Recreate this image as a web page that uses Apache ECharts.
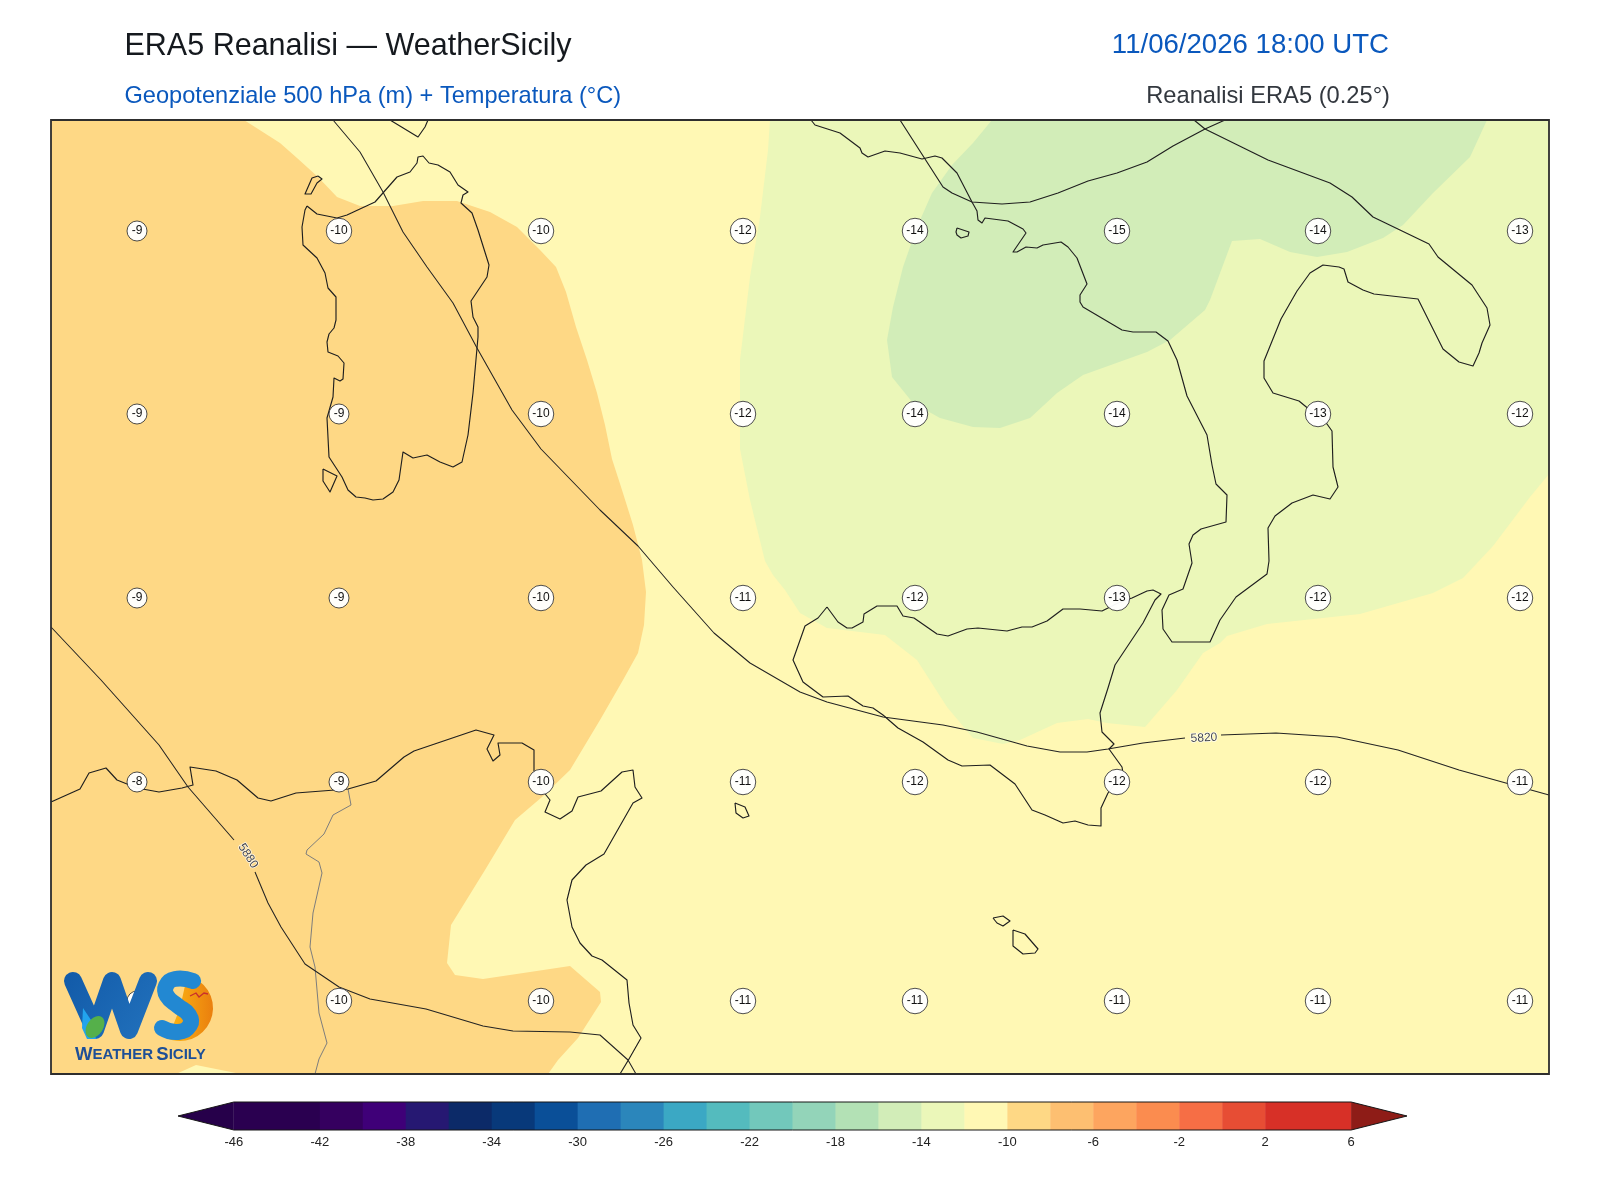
<!DOCTYPE html>
<html>
<head>
<meta charset="utf-8">
<style>html,body{margin:0;padding:0;background:#fff}#c{width:1600px;height:1200px}</style>
<script src="https://cdn.jsdelivr.net/npm/echarts@6/dist/echarts.min.js"></script>
</head>
<body>
<div id="c"></div>
<script>
// Map units: the plot window spans x 51..1549 and y 120..1074 (y grows southward).
const mapX = [51, 1549];
const mapY = [120, 1074];

// Temperature bands (filled contours)
const bandBase = [[51,120],[1549,120],[1549,1074],[51,1074]];
const bandOrange = [[51,120],[244,120],[280,143],[297,158],[318,177],[337,197],[360,206],[393,206],[423,201],[457,201],[490,212],[517,227],[540,250],[556,267],[566,292],[576,327],[587,360],[597,393],[605,425],[612,459],[622,490],[633,525],[642,560],[646,592],[644,625],[638,653],[623,680],[600,720],[570,770],[542,797],[515,820],[485,870],[451,925],[447,963],[455,975],[483,979],[530,972],[570,966],[600,992],[601,1002],[578,1038],[558,1060],[548,1074],[51,1074]];
const bandWedge = [[176,1074],[196,1065],[241,1074]];
const bandPale = [[770,120],[768,150],[760,217],[750,277],[740,360],[740,449],[750,500],[765,561],[773,575],[785,590],[800,613],[827,628],[885,635],[917,660],[947,707],[973,738],[1003,744],[1020,740],[1057,723],[1088,719],[1107,723],[1145,727],[1177,690],[1203,653],[1220,643],[1227,636],[1267,624],[1360,614],[1433,593],[1463,578],[1493,546],[1530,497],[1549,474],[1549,120]];
const bandGreen = [[992,120],[973,143],[952,165],[932,193],[917,227],[903,267],[893,307],[887,340],[892,377],[913,403],[940,418],[973,427],[1000,428],[1030,418],[1057,393],[1083,375],[1147,352],[1170,340],[1205,310],[1210,300],[1232,241],[1260,239],[1290,252],[1317,257],[1347,252],[1383,238],[1403,225],[1433,193],[1470,157],[1487,120]];
const bandColors = ['#fff8b4','#fed885','#fff8b4','#ebf7b9','#d2edb8'];

// Coastlines
const sardinia = [[307,206],[317,214],[337,218],[347,215],[375,202],[397,177],[410,172],[417,163],[418,157],[423,156],[429,163],[438,165],[450,172],[458,185],[468,192],[463,195],[461,203],[472,213],[478,230],[489,265],[487,277],[471,301],[473,317],[478,327],[478,337],[473,393],[468,435],[462,462],[453,467],[440,462],[427,455],[413,458],[403,452],[399,480],[393,492],[383,499],[373,500],[365,498],[356,497],[348,490],[342,477],[329,457],[327,418],[333,397],[334,378],[340,381],[343,379],[344,363],[338,356],[328,352],[327,342],[329,334],[334,328],[336,320],[336,297],[328,288],[325,273],[317,258],[303,245],[302,227],[305,210],[307,206]];
const asinara = [[318,176],[322,179],[317,183],[311,194],[305,194],[312,178],[318,176]];
const antioco = [[323,469],[337,476],[330,492],[323,481],[323,469]];
const corsica = [[390,120],[418,137],[425,127],[428,120]];
const italyWest = [[811,120],[815,125],[840,133],[860,148],[862,153],[868,157],[885,151],[900,153],[922,159],[935,156],[942,158],[957,173],[972,202],[977,211],[978,220],[982,223],[985,218],[1008,221],[1023,229],[1026,233],[1013,252],[1017,252],[1026,247],[1037,248],[1043,245],[1061,242],[1068,247],[1077,258],[1087,284],[1080,295],[1080,302],[1083,307],[1122,330],[1133,332],[1156,332],[1168,341],[1177,360],[1187,396],[1207,435],[1212,465],[1216,484],[1227,495],[1226,522],[1201,529],[1193,535],[1189,544],[1192,563],[1183,589],[1169,595],[1162,610],[1163,629],[1172,642],[1210,642],[1220,620],[1236,597],[1267,574],[1269,561],[1268,528],[1275,516],[1292,503],[1313,495],[1330,499],[1338,487],[1333,467],[1332,431],[1327,424],[1299,401],[1273,393],[1264,378],[1264,361],[1281,319],[1297,291],[1310,273],[1323,265],[1339,267],[1344,269],[1348,282],[1363,290],[1374,294],[1418,299],[1443,349],[1459,362],[1473,366],[1479,353],[1482,343],[1490,325],[1487,308],[1472,285],[1438,257],[1429,244],[1373,217],[1352,197],[1330,183],[1268,160],[1205,129],[1194,120]];
const adriatic = [[900,120],[943,187],[952,193],[972,202],[1002,204],[1030,202],[1058,193],[1088,181],[1117,173],[1147,162],[1173,146],[1205,129],[1225,120]];
const ponza = [[957,228],[969,232],[968,236],[961,238],[957,235],[956,232],[957,228]];
const sicily = [[827,607],[838,622],[847,628],[852,628],[863,622],[864,614],[877,606],[897,606],[903,616],[914,618],[937,634],[948,636],[967,629],[978,628],[1007,631],[1022,627],[1032,627],[1047,621],[1063,609],[1080,609],[1102,611],[1118,603],[1132,598],[1147,591],[1153,590],[1161,594],[1155,600],[1143,623],[1115,665],[1108,688],[1100,713],[1102,732],[1114,744],[1109,749],[1122,767],[1123,773],[1108,793],[1101,808],[1101,826],[1088,825],[1075,821],[1063,823],[1045,815],[1032,810],[1015,784],[990,765],[962,766],[948,760],[923,742],[898,728],[883,715],[873,708],[863,706],[848,696],[823,697],[803,682],[793,660],[805,626],[818,618],[827,607]];
const pantelleria = [[735,803],[745,807],[749,816],[743,818],[736,813],[735,803]];
const linosa = [[993,918],[1003,916],[1010,921],[1003,926],[997,923],[993,918]];
const malta = [[1013,930],[1025,934],[1038,949],[1035,953],[1023,954],[1013,946],[1013,930]];
const africa = [[51,802],[80,789],[89,773],[106,768],[117,780],[137,788],[159,792],[182,788],[193,785],[190,767],[216,771],[237,780],[258,798],[271,801],[296,793],[348,789],[376,781],[404,757],[414,751],[476,730],[494,735],[487,749],[493,761],[500,755],[498,743],[522,743],[534,750],[534,780],[550,800],[545,812],[560,819],[572,811],[578,797],[601,791],[622,772],[633,770],[635,787],[642,798],[633,803],[604,854],[586,865],[572,880],[567,900],[572,927],[580,943],[592,956],[602,960],[627,980],[629,1003],[633,1025],[641,1038],[629,1059],[620,1074]];
const border = [[348,789],[351,805],[333,815],[324,834],[307,850],[306,854],[319,862],[322,873],[313,913],[310,947],[315,967],[319,1013],[327,1043],[319,1059],[315,1074]];
const coastLines = [sardinia, asinara, antioco, corsica, italyWest, adriatic, ponza, sicily, pantelleria, linosa, malta, africa];

// Geopotential isolines
const iso5880a = [[51,627],[101,680],[159,745],[188,787],[234,840]];
const iso5880b = [[255,872],[268,903],[281,927],[305,964],[339,987],[370,999],[426,1009],[483,1026],[513,1031],[570,1032],[600,1035],[628,1060],[636,1074]];
const iso5820a = [[333,120],[360,152],[383,192],[403,232],[427,267],[453,303],[477,348],[512,410],[541,449],[600,510],[638,546],[673,587],[714,633],[750,663],[800,692],[827,702],[883,717],[943,725],[977,732],[1027,746],[1060,752],[1087,752],[1108,749],[1143,743],[1185,738]];
const iso5820b = [[1221,735],[1276,733],[1337,737],[1398,750],[1459,770],[1549,795]];
const isoLabels = [[248,856,'5880',-57],[1204,738,'5820',3]];

// Temperature stations
const stationX = [137,339,541,743,915,1117,1318,1520];
const stationY = [231,414,598,782,1001];
const stationT = [
  [-9,-10,-10,-12,-14,-15,-14,-13],
  [-9,-9,-10,-12,-14,-14,-13,-12],
  [-9,-9,-10,-11,-12,-13,-12,-12],
  [-8,-9,-10,-11,-12,-12,-12,-11],
  [-9,-10,-10,-11,-11,-11,-11,-11]
];
const edgeStation = [49,708,-8];

// Colour bar
const cbEdges = [-46,-42,-40,-38,-36,-34,-32,-30,-28,-26,-24,-22,-20,-18,-16,-14,-12,-10,-8,-6,-4,-2,0,2,6];
const cbColors = ['#2a0050','#35005f','#3f0078','#261872','#0c2a68','#08397a','#0a4f98','#1f6eb3','#2b86bb','#3ba8c4','#54bbbe','#72c8bb','#93d4b9','#b3e1b5','#d2edb8','#ebf7b9','#fff8b4','#fed885','#fdbf71','#fda55f','#fb8c4f','#f66e45','#e74d34','#d73027'];
const cbTicks = [-46,-42,-38,-34,-30,-26,-22,-18,-14,-10,-6,-2,2,6];
const cbRange = [-48.6,8.6];
const cbUnder = '#26004a';
const cbOver = '#8e1c17';

const FONT = '"Liberation Sans", Arial, sans-serif';
const bands = [bandBase, bandOrange, bandWedge, bandPale, bandGreen];

const stations = [];
stationY.forEach((y, r) => stationX.forEach((x, c) => stations.push([x, y, stationT[r][c]])));
stations.push(edgeStation);

function coastSeries(pts, color, width) {
  return {type:'line', xAxisIndex:0, yAxisIndex:0, data:pts, showSymbol:false, silent:true, clip:true, z:5,
    lineStyle:{color:color, width:width, join:'round'}, animation:false};
}

const series = [];
series.push({
  type:'custom', xAxisIndex:0, yAxisIndex:0, clip:true, silent:true, z:1, animation:false,
  data: bands.map((b,i)=>[i]),
  renderItem(params, api){
    const i = api.value(0);
    return {type:'polygon', shape:{points:bands[i].map(p=>api.coord(p))},
      style:{fill:bandColors[i], stroke:null}};
  }
});
series.push(coastSeries(border, '#7d7d7d', 1));
coastLines.forEach(c=>series.push(coastSeries(c, '#1f1f1f', 1.15)));
[iso5880a, iso5880b, iso5820a, iso5820b].forEach(c=>series.push(coastSeries(c, '#232323', 1.05)));
isoLabels.forEach(l=>series.push({
  type:'scatter', xAxisIndex:0, yAxisIndex:0, silent:true, z:6, symbolSize:0, animation:false,
  data:[[l[0],l[1]]],
  label:{show:true, position:'inside', formatter:l[2], rotate:l[3], fontFamily:FONT, fontSize:12,
    color:'#10141f', textBorderColor:'#fff', textBorderWidth:1.5}
}));
series.push({
  type:'scatter', xAxisIndex:0, yAxisIndex:0, clip:true, silent:true, z:7, animation:false,
  data:stations,
  symbol:'circle',
  symbolSize:(v)=>String(v[2]).length>2?25.5:20,
  itemStyle:{color:'rgba(255,255,255,0.96)', borderColor:'#3a3a3a', borderWidth:0.9, opacity:1},
  label:{show:true, position:'inside', formatter:(p)=>String(p.value[2]), fontFamily:FONT, fontSize:12, color:'#111'}
});

// Colour bar
series.push({
  type:'custom', xAxisIndex:1, yAxisIndex:1, clip:false, silent:true, z:2, animation:false,
  data: cbColors.map((c,i)=>[cbEdges[i],cbEdges[i+1],i]),
  renderItem(params, api){
    const a = api.coord([api.value(0),1]), b = api.coord([api.value(1),0]);
    const col = cbColors[api.value(2)];
    return {type:'rect', shape:{x:a[0], y:a[1], width:b[0]-a[0]+0.5, height:b[1]-a[1]}, style:{fill:col, stroke:null}};
  }
});
series.push({
  type:'custom', xAxisIndex:1, yAxisIndex:1, clip:false, silent:true, z:3, animation:false,
  data:[[cbRange[0],cbEdges[0],cbEdges[cbEdges.length-1],cbRange[1]]],
  renderItem(params, api){
    const l=api.value(0), e0=api.value(1), e1=api.value(2), r=api.value(3);
    const under=[api.coord([l,0.5]),api.coord([e0,1]),api.coord([e0,0])];
    const over=[api.coord([r,0.5]),api.coord([e1,1]),api.coord([e1,0])];
    const outline=[api.coord([l,0.5]),api.coord([e0,1]),api.coord([e1,1]),api.coord([r,0.5]),api.coord([e1,0]),api.coord([e0,0])];
    return {type:'group', children:[
      {type:'polygon', shape:{points:under}, style:{fill:cbUnder}},
      {type:'polygon', shape:{points:over}, style:{fill:cbOver}},
      {type:'polygon', shape:{points:outline}, style:{fill:null, stroke:'#161616', lineWidth:1}}
    ]};
  }
});

const option = {
  backgroundColor:'#fff',
  animation:false,
  textStyle:{fontFamily:FONT},
  title:[
    {text:'ERA5 Reanalisi — WeatherSicily', left:124.5, top:31, padding:0, textStyle:{fontFamily:FONT, fontSize:30.5, fontWeight:'normal', color:'#15191e'}},
    {text:'Geopotenziale 500 hPa (m) + Temperatura (°C)', left:124.5, top:84, padding:0, textStyle:{fontFamily:FONT, fontSize:23.6, fontWeight:'normal', color:'#0a58bd'}},
    {text:'11/06/2026 18:00 UTC', right:211, top:31, padding:0, textStyle:{fontFamily:FONT, fontSize:27.6, fontWeight:'normal', color:'#0a58bd'}},
    {text:'Reanalisi ERA5 (0.25°)', right:210, top:84, padding:0, textStyle:{fontFamily:FONT, fontSize:23.7, fontWeight:'normal', color:'#33383f'}}
  ],
  grid:[
    {left:mapX[0], top:mapY[0], width:mapX[1]-mapX[0], height:mapY[1]-mapY[0], show:false},
    {left:178, top:1102, width:1229, height:28, show:false}
  ],
  xAxis:[
    {type:'value', gridIndex:0, min:mapX[0], max:mapX[1], show:false},
    {type:'value', gridIndex:1, min:cbRange[0], max:cbRange[1], splitLine:{show:false},
      axisLine:{show:false},
      axisTick:{show:false, customValues:cbTicks},
      axisLabel:{show:true, customValues:cbTicks, formatter:(v)=>String(v), fontFamily:FONT, fontSize:13, color:'#222', margin:6}}
  ],
  yAxis:[
    {type:'value', gridIndex:0, min:mapY[0], max:mapY[1], inverse:true, show:false},
    {type:'value', gridIndex:1, min:0, max:1, show:false}
  ],
  series:series,
  graphic:{elements:[
    {type:'rect', z:50, silent:true, shape:{x:mapX[0],y:mapY[0],width:mapX[1]-mapX[0],height:mapY[1]-mapY[0]},
      style:{fill:null, stroke:'#2e2e2e', lineWidth:1.8}},
    // logo
    {type:'sector', z:60, silent:true, shape:{cx:180,cy:1008,r:33,r0:0,startAngle:-1.35,endAngle:1.95,clockwise:true},
      style:{fill:{type:'linear',x:0,y:0,x2:1,y2:0,colorStops:[{offset:0,color:'#fdb813'},{offset:1,color:'#ea7f0e'}]}}},
    {type:'polyline', z:61, silent:true, shape:{points:[[73,981],[95,1030],[112,981],[129,1030],[148,981]]},
      style:{fill:null, stroke:{type:'linear',x:0,y:0,x2:1,y2:1,colorStops:[{offset:0,color:'#125aa8'},{offset:1,color:'#2272bd'}]}, lineWidth:18, lineCap:'round', lineJoin:'round'}},
    {type:'polyline', z:62, silent:true, shape:{points:[[193,981],[175,979],[166,986],[167,996],[178,1006],[189,1015],[190,1025],[178,1032],[162,1028]], smooth:0.5},
      style:{fill:null, stroke:'#2288d2', lineWidth:16, lineCap:'round', lineJoin:'round'}},
    {type:'polygon', z:63, silent:true, shape:{points:[[83,1008],[91,1020],[96,1039],[87,1039],[82,1028]]}, style:{fill:'#22a4ee'}},
    {type:'ellipse', z:64, silent:true, shape:{cx:95,cy:1027,rx:8,ry:12}, rotation:-0.6, originX:95, originY:1027, style:{fill:'#55b04a'}},
    {type:'polyline', z:65, silent:true, shape:{points:[[190,996],[196,993],[199,997],[204,993],[208,994]]}, style:{fill:null, stroke:'#c9302c', lineWidth:1.3}},
    {type:'text', z:66, silent:true, x:75, y:1045, style:{
      text:'{a|W}{b|EATHER} {a|S}{b|ICILY}',
      rich:{a:{fontFamily:FONT,fontSize:18.5,fontWeight:'bold',fill:'#1d4f97'},b:{fontFamily:FONT,fontSize:15,fontWeight:'bold',fill:'#1d4f97'}}
    }}
  ]}
};
const chart = echarts.init(document.getElementById('c'), null, {renderer:'canvas', width:1600, height:1200});
chart.setOption(option);
</script>
</body>
</html>
